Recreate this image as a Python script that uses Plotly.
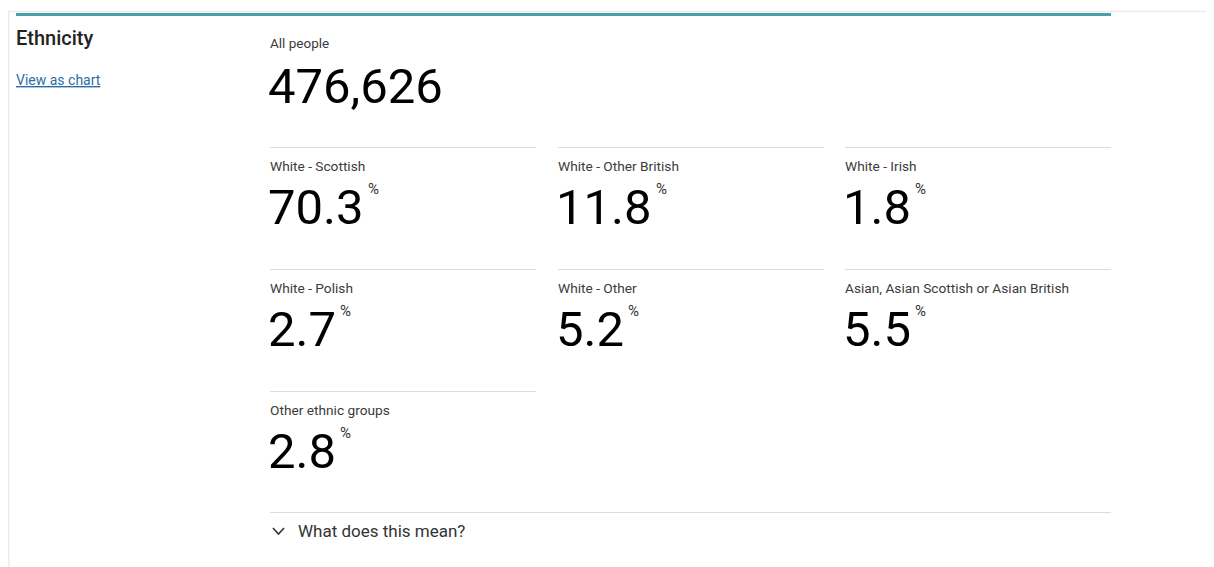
import plotly.graph_objects as go

# ---- data ----
title = "Ethnicity"
link_text = "View as chart"
total_label = "All people"
total_value = 476626
categories = ["White - Scottish", "White - Other British", "White - Irish",
              "White - Polish", "White - Other", "Asian, Asian Scottish or Asian British",
              "Other ethnic groups"]
percentages = [70.3, 11.8, 1.8, 2.7, 5.2, 5.5, 2.8]
footer_text = "What does this mean?"

# page body has an 8px margin; figure coordinates are page pixel coordinates
OFF = 8
W, H = 1214, 567
FONT = "Roboto, 'Open Sans', sans-serif"
TEAL = "#4aa0a6"
GRID = "#dcdcdc"
LABEL_COLOR = "#3b3b3b"
NUM_COLOR = "#000000"

fig = go.Figure()
shapes = []
ann = []

# card frame
shapes.append(dict(type="rect", x0=8.7, x1=1212.5, y0=11.5, y1=580, line=dict(color="#ececec", width=1.5),
                   fillcolor="white", layer="below"))
shapes.append(dict(type="line", x0=16, x1=1111, y0=14.5, y1=14.5, line=dict(color=TEAL, width=3)))

ann.append(dict(x=14, y=38, text=title, font=dict(family=FONT, size=20, color="#222222", weight=500),
                xanchor="left", yanchor="middle", showarrow=False))
ann.append(dict(x=14, y=80, text="<u>" + link_text + "</u>", font=dict(family=FONT, size=14, color="#2b6ea5"),
                xanchor="left", yanchor="middle", showarrow=False))

ann.append(dict(x=268, y=43, text=total_label, font=dict(family=FONT, size=13.5, color=LABEL_COLOR),
                xanchor="left", yanchor="middle", showarrow=False))
ann.append(dict(x=266, y=86, text=f"{total_value:,}", font=dict(family=FONT, size=49, color=NUM_COLOR),
                xanchor="left", yanchor="middle", showarrow=False))

col_x = [270, 558, 845]
col_w = 266
row_y = [147, 269, 391]
NUM_SIZE = 49


def text_width(s, size):
    w = 0.0
    for ch in s:
        if ch.isdigit():
            w += 0.562
        elif ch == ".":
            w += 0.263
        elif ch == ",":
            w += 0.196
        else:
            w += 0.5
    return w * size


for i, (cat, pct) in enumerate(zip(categories, percentages)):
    r, c = divmod(i, 3)
    x0 = col_x[c]
    y0 = row_y[r]
    shapes.append(dict(type="line", x0=x0, x1=x0 + col_w, y0=y0 + 0.5, y1=y0 + 0.5, line=dict(color=GRID, width=1)))
    ann.append(dict(x=x0 - 2, y=y0 + 19, text=cat, font=dict(family=FONT, size=13.7, color=LABEL_COLOR),
                    xanchor="left", yanchor="middle", showarrow=False))
    s = f"{pct:.1f}"
    ann.append(dict(x=x0 - 4, y=y0 + 60, text=s, font=dict(family=FONT, size=NUM_SIZE, color=NUM_COLOR),
                    xanchor="left", yanchor="middle", showarrow=False))
    ann.append(dict(x=x0 - 4 + text_width(s, NUM_SIZE) + 4, y=y0 + 42, text="%",
                    font=dict(family=FONT, size=15, color="#333333"),
                    xanchor="left", yanchor="middle", showarrow=False))

shapes.append(dict(type="line", x0=270, x1=1111, y0=512.5, y1=512.5, line=dict(color=GRID, width=1)))
# chevron
shapes.append(dict(type="path", path="M 273 528 L 278.5 534 L 284 528", line=dict(color="#333333", width=1.6)))
ann.append(dict(x=296, y=531, text=footer_text, font=dict(family=FONT, size=17, color="#333333"),
                xanchor="left", yanchor="middle", showarrow=False))

fig.update_layout(
    width=W - OFF, height=H - OFF, margin=dict(l=0, r=0, t=0, b=0),
    paper_bgcolor="white", plot_bgcolor="white",
    xaxis=dict(range=[OFF, W], visible=False, fixedrange=True),
    yaxis=dict(range=[H, OFF], visible=False, fixedrange=True),
    shapes=shapes, annotations=ann, showlegend=False,
)
fig.write_html("out.html", config={"displayModeBar": False})
